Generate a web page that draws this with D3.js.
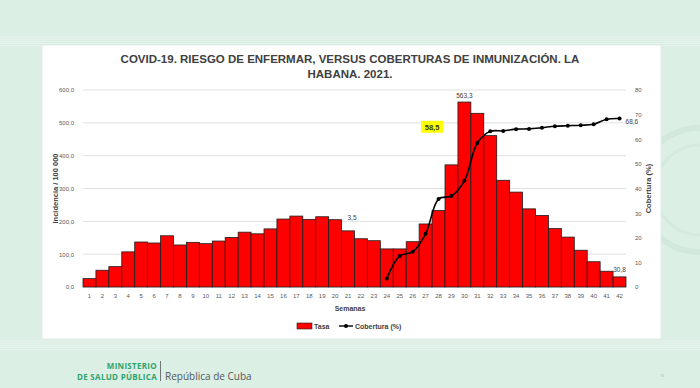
<!DOCTYPE html>
<html>
<head>
<meta charset="utf-8">
<script src="https://cdn.jsdelivr.net/npm/d3@7"></script>
<style>
  body { margin: 0; background: #dcefe5; }
  svg { display: block; font-family: "Liberation Sans", Arial, sans-serif; }
</style>
</head>
<body>
<script>
// semanas y datos
var semanas = d3.range(1, 43)
var tasa = [25.5, 51, 62, 107, 137, 134, 156, 128, 136, 132,
            140, 151, 167, 162, 177, 207, 216, 206, 214, 205,
            171, 147, 141, 116, 116, 138, 192, 233, 372, 563.3,
            529, 461, 325, 289, 238, 218, 178, 152, 112, 77,
            48, 30.8]
var semanasCob = d3.range(24, 43)
var cobertura = [3.5, 12.6, 14.3, 21.6, 35.7, 37.0, 43.1, 58.5, 63.2, 63.4,
                 64.1, 64.2, 64.7, 65.3, 65.5, 65.7, 66.1, 68.1, 68.4]
var ticksIzq = [0, 100, 200, 300, 400, 500, 600]
var ticksDer = [0, 10, 20, 30, 40, 50, 60, 70, 80]

var width = 700, height = 388
var margin = {top: 90, bottom: 101, left: 83, right: 74}

var svg = d3.select("body").append("svg")
  .attr("width", width)
  .attr("height", height)

// fondo de la diapositiva
svg.append("rect").attr("width", width).attr("height", height).attr("fill", "#dcefe5")
var rayas = svg.append("g").attr("stroke", "#e7f4ed").attr("stroke-width", 0.8)
d3.range(0, 5).forEach(function(i) {
  rayas.append("line").attr("x1", 0).attr("x2", width)
    .attr("y1", 37 + i * 2.2).attr("y2", 37 + i * 2.2)
  rayas.append("line").attr("x1", 0).attr("x2", width)
    .attr("y1", 341 + i * 2.2).attr("y2", 341 + i * 2.2)
})
svg.append("circle").attr("cx", 700).attr("cy", 190).attr("r", 62)
  .attr("fill", "none").attr("stroke", "#d2e8dc").attr("stroke-width", 6)
svg.append("circle").attr("cx", 700).attr("cy", 190).attr("r", 45)
  .attr("fill", "none").attr("stroke", "#d5eadf").attr("stroke-width", 3)

// tarjeta blanca
svg.append("rect")
  .attr("x", 42).attr("y", 45).attr("width", 619).attr("height", 294)
  .attr("fill", "#ffffff").attr("stroke", "#e2ece6")

// título
var titulo = svg.append("text")
  .attr("text-anchor", "middle")
  .attr("font-weight", "bold")
  .attr("font-size", 11.5)
  .attr("fill", "#404040")
titulo.append("tspan").attr("x", 350).attr("y", 63)
  .text("COVID-19. RIESGO DE ENFERMAR, VERSUS COBERTURAS DE INMUNIZACIÓN. LA")
titulo.append("tspan").attr("x", 350).attr("y", 78)
  .text("HABANA. 2021.")

// escalas
var x = d3.scaleBand()
  .domain(semanas)
  .range([margin.left, width - margin.right])
  .padding(0)

var yIzq = d3.scaleLinear()
  .domain([0, 600])
  .range([height - margin.bottom, margin.top])

var yDer = d3.scaleLinear()
  .domain([0, 80])
  .range([height - margin.bottom, margin.top])

// rejilla
svg.append("g")
  .selectAll("line")
  .data(ticksIzq)
  .join("line")
  .attr("x1", margin.left)
  .attr("x2", width - margin.right)
  .attr("y1", d => yIzq(d))
  .attr("y2", d => yIzq(d))
  .attr("stroke", "#d9d9d9")
  .attr("stroke-width", 0.8)

// eje izquierdo
var ejeIzq = svg.append("g")
  .attr("transform", "translate(" + (margin.left - 6) + ",0)")
  .call(d3.axisLeft(yIzq).tickValues(ticksIzq).tickSize(0)
    .tickFormat(d => d3.format(".1f")(d).replace(".", ",")))
ejeIzq.select(".domain").remove()
ejeIzq.selectAll("text").attr("font-size", 6).attr("fill", "#595959")
  .attr("font-family", "Liberation Sans, Arial, sans-serif")

// eje derecho
var ejeDer = svg.append("g")
  .attr("transform", "translate(" + (width - margin.right + 6) + ",0)")
  .call(d3.axisRight(yDer).tickValues(ticksDer).tickSize(0))
ejeDer.select(".domain").remove()
ejeDer.selectAll("text").attr("font-size", 6).attr("fill", "#595959")
  .attr("font-family", "Liberation Sans, Arial, sans-serif")

// barras
svg.append("g")
  .selectAll("rect")
  .data(tasa)
  .join("rect")
  .attr("x", (d, i) => x(semanas[i]))
  .attr("y", d => yIzq(d))
  .attr("width", x.bandwidth())
  .attr("height", d => yIzq(0) - yIzq(d))
  .attr("fill", "#ff0000")
  .attr("stroke", "#1e1e1e")
  .attr("stroke-width", 0.8)

// eje x
var ejeX = svg.append("g")
  .attr("transform", "translate(0," + (height - margin.bottom + 4) + ")")
  .call(d3.axisBottom(x).tickSize(0))
ejeX.select(".domain").remove()
ejeX.selectAll("text").attr("font-size", 6).attr("fill", "#595959")
  .attr("font-family", "Liberation Sans, Arial, sans-serif")

// línea de cobertura
var linea = d3.line()
  .x((d, i) => x(semanasCob[i]) + x.bandwidth() / 2)
  .y(d => yDer(d))
  .curve(d3.curveCatmullRom.alpha(0.5))

svg.append("path")
  .datum(cobertura)
  .attr("d", linea)
  .attr("fill", "none")
  .attr("stroke", "#000000")
  .attr("stroke-width", 1.6)

svg.append("g")
  .selectAll("circle")
  .data(cobertura)
  .join("circle")
  .attr("cx", (d, i) => x(semanasCob[i]) + x.bandwidth() / 2)
  .attr("cy", d => yDer(d))
  .attr("r", 2)
  .attr("fill", "#000000")

// etiquetas de datos
var etiq = svg.append("g").attr("font-size", 6.5).attr("fill", "#404040")
etiq.append("text").attr("text-anchor", "middle")
  .attr("x", x(30) + x.bandwidth() / 2).attr("y", yIzq(563.3) - 4)
  .text("563,3")
etiq.append("text").attr("text-anchor", "middle")
  .attr("x", x(42) + x.bandwidth() / 2).attr("y", yIzq(30.8) - 5)
  .text("30,8")
etiq.append("text").attr("text-anchor", "start")
  .attr("x", x(42) + x.bandwidth() / 2 + 6).attr("y", yDer(68.6) + 6)
  .text("68,6")
etiq.append("text").attr("text-anchor", "middle")
  .attr("x", x(21) + x.bandwidth() / 2 + 4).attr("y", yIzq(205))
  .text("3,5")

// etiqueta resaltada
var cx585 = x(28)
svg.append("rect")
  .attr("x", cx585 - 11).attr("y", yDer(67.5))
  .attr("width", 22).attr("height", 12)
  .attr("fill", "#ffff00")
svg.append("text")
  .attr("x", cx585).attr("y", yDer(67.5) + 9)
  .attr("text-anchor", "middle")
  .attr("font-size", 7.5).attr("font-weight", "bold").attr("fill", "#333333")
  .text("58,5")

// títulos de ejes
svg.append("text")
  .attr("transform", "translate(57.5," + yIzq(300) + ") rotate(-90)")
  .attr("text-anchor", "middle")
  .attr("font-size", 7.5).attr("font-weight", "bold").attr("fill", "#404040")
  .text("Incidencia / 100 000")
svg.append("text")
  .attr("transform", "translate(651," + yDer(40) + ") rotate(-90)")
  .attr("text-anchor", "middle")
  .attr("font-size", 7.5).attr("font-weight", "bold").attr("fill", "#404040")
  .text("Cobertura (%)")
svg.append("text")
  .attr("x", 350).attr("y", 311)
  .attr("text-anchor", "middle")
  .attr("font-size", 7).attr("font-weight", "bold").attr("fill", "#404040")
  .text("Semanas")

// leyenda
var ley = svg.append("g").attr("transform", "translate(297,327)")
ley.append("rect").attr("x", 0).attr("y", -4).attr("width", 15).attr("height", 6)
  .attr("fill", "#ff0000").attr("stroke", "#1e1e1e").attr("stroke-width", 0.6)
ley.append("text").attr("x", 17).attr("y", 2).attr("font-size", 7)
  .attr("font-weight", "bold").attr("fill", "#404040").text("Tasa")
ley.append("line").attr("x1", 42).attr("x2", 56).attr("y1", -1).attr("y2", -1)
  .attr("stroke", "#000").attr("stroke-width", 1.4)
ley.append("circle").attr("cx", 49).attr("cy", -1).attr("r", 2).attr("fill", "#000")
ley.append("text").attr("x", 58).attr("y", 2).attr("font-size", 7)
  .attr("font-weight", "bold").attr("fill", "#404040").text("Cobertura (%)")

// pie: logotipo
var pie = svg.append("g").attr("font-family", "'Open Sans', sans-serif")
pie.append("text").attr("x", 157).attr("y", 368.5).attr("text-anchor", "end")
  .attr("font-size", 8).attr("font-weight", "bold").attr("fill", "#2fa36b")
  .attr("letter-spacing", 0.3)
  .text("MINISTERIO")
pie.append("text").attr("x", 157).attr("y", 379.5).attr("text-anchor", "end")
  .attr("font-size", 8).attr("font-weight", "bold").attr("fill", "#2fa36b")
  .attr("letter-spacing", 0.3)
  .text("DE SALUD PÚBLICA")
pie.append("line").attr("x1", 160.5).attr("x2", 160.5).attr("y1", 361).attr("y2", 381)
  .attr("stroke", "#555").attr("stroke-width", 0.8)
pie.append("text").attr("x", 165).attr("y", 379.5)
  .attr("font-size", 10).attr("fill", "#555555")
  .text("República de Cuba")
pie.append("text").attr("x", 662).attr("y", 377).attr("text-anchor", "middle")
  .attr("font-size", 4).attr("fill", "#9ab8a8").text("16")
</script>
</body>
</html>
